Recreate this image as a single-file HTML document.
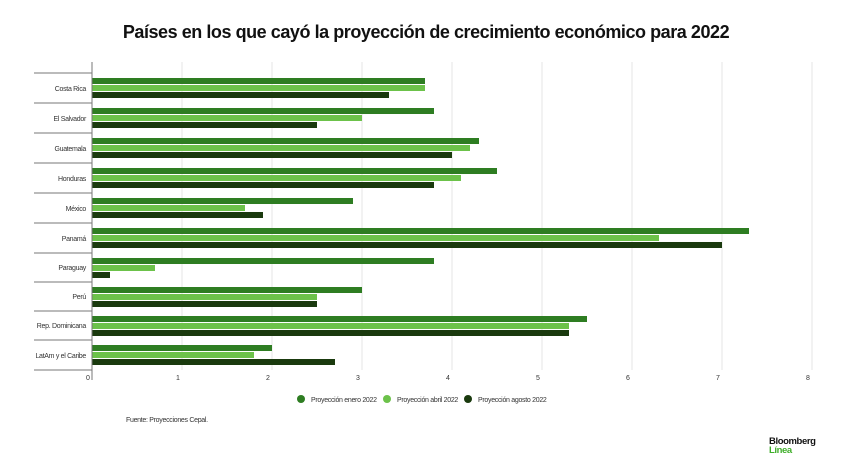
<!DOCTYPE html>
<html><head><meta charset="utf-8"><style>
body{margin:0;background:#fff;width:841px;height:468px;overflow:hidden;font-family:"Liberation Sans",sans-serif}
svg text{font-family:"Liberation Sans",sans-serif}
</style></head><body>
<svg width="841" height="468" xmlns="http://www.w3.org/2000/svg">
<text x="426" y="38" text-anchor="middle" font-size="18" font-weight="bold" fill="#111" letter-spacing="-0.45">Países en los que cayó la proyección de crecimiento económico para 2022</text>
<g stroke="#e6e6e6" stroke-width="1">
<line x1="182" y1="62" x2="182" y2="370"/><line x1="272" y1="62" x2="272" y2="370"/><line x1="362" y1="62" x2="362" y2="370"/><line x1="452" y1="62" x2="452" y2="370"/><line x1="542" y1="62" x2="542" y2="370"/><line x1="632" y1="62" x2="632" y2="370"/><line x1="722" y1="62" x2="722" y2="370"/><line x1="812" y1="62" x2="812" y2="370"/>
</g>
<g fill="#2e7d22">
<rect x="92" y="78" width="333" height="6"/><rect x="92" y="108" width="342" height="6"/><rect x="92" y="138" width="387" height="6"/><rect x="92" y="168" width="405" height="6"/><rect x="92" y="198" width="261" height="6"/><rect x="92" y="228" width="657" height="6"/><rect x="92" y="258" width="342" height="6"/><rect x="92" y="287" width="270" height="6"/><rect x="92" y="316" width="495" height="6"/><rect x="92" y="345" width="180" height="6"/>
</g>
<g fill="#6cc24a">
<rect x="92" y="85" width="333" height="6"/><rect x="92" y="115" width="270" height="6"/><rect x="92" y="145" width="378" height="6"/><rect x="92" y="175" width="369" height="6"/><rect x="92" y="205" width="153" height="6"/><rect x="92" y="235" width="567" height="6"/><rect x="92" y="265" width="63" height="6"/><rect x="92" y="294" width="225" height="6"/><rect x="92" y="323" width="477" height="6"/><rect x="92" y="352" width="162" height="6"/>
</g>
<g fill="#1a3a0e">
<rect x="92" y="92" width="297" height="6"/><rect x="92" y="122" width="225" height="6"/><rect x="92" y="152" width="360" height="6"/><rect x="92" y="182" width="342" height="6"/><rect x="92" y="212" width="171" height="6"/><rect x="92" y="242" width="630" height="6"/><rect x="92" y="272" width="18" height="6"/><rect x="92" y="301" width="225" height="6"/><rect x="92" y="330" width="477" height="6"/><rect x="92" y="359" width="243" height="6"/>
</g>
<g stroke="#777" stroke-width="1">
<line x1="34" y1="73" x2="92" y2="73"/><line x1="34" y1="103" x2="92" y2="103"/><line x1="34" y1="133" x2="92" y2="133"/><line x1="34" y1="163" x2="92" y2="163"/><line x1="34" y1="193" x2="92" y2="193"/><line x1="34" y1="223" x2="92" y2="223"/><line x1="34" y1="253" x2="92" y2="253"/><line x1="34" y1="282" x2="92" y2="282"/><line x1="34" y1="311" x2="92" y2="311"/><line x1="34" y1="340" x2="92" y2="340"/><line x1="34" y1="370" x2="92" y2="370"/>
<line x1="92" y1="62" x2="92" y2="380"/>
</g>
<g font-size="7" fill="#333" text-anchor="end" letter-spacing="-0.3">
<text x="86" y="91">Costa Rica</text><text x="86" y="121">El Salvador</text><text x="86" y="151">Guatemala</text><text x="86" y="181">Honduras</text><text x="86" y="211">México</text><text x="86" y="241">Panamá</text><text x="86" y="270">Paraguay</text><text x="86" y="299">Perú</text><text x="86" y="328">Rep. Dominicana</text><text x="86" y="358">LatAm y el Caribe</text>
</g>
<g font-size="7" fill="#333" text-anchor="middle">
<text x="88" y="380">0</text><text x="178" y="380">1</text><text x="268" y="380">2</text><text x="358" y="380">3</text><text x="448" y="380">4</text><text x="538" y="380">5</text><text x="628" y="380">6</text><text x="718" y="380">7</text><text x="808" y="380">8</text>
</g>
<g font-size="7" fill="#333" letter-spacing="-0.3">
<circle cx="301" cy="399" r="4" fill="#2e7d22"/><text x="311" y="402">Proyección enero 2022</text>
<circle cx="387" cy="399" r="4" fill="#6cc24a"/><text x="397" y="402">Proyección abril 2022</text>
<circle cx="468" cy="399" r="4" fill="#1a3a0e"/><text x="478" y="402">Proyección agosto 2022</text>
</g>
<text x="126" y="422" font-size="7" fill="#333" letter-spacing="-0.3">Fuente: Proyecciones Cepal.</text>
<text x="769" y="444" font-size="9.5" font-weight="bold" fill="#111" letter-spacing="-0.4">Bloomberg</text>
<text x="769" y="453" font-size="9.5" font-weight="bold" fill="#3fae2a" letter-spacing="-0.4">Línea</text>
</svg>
</body></html>
